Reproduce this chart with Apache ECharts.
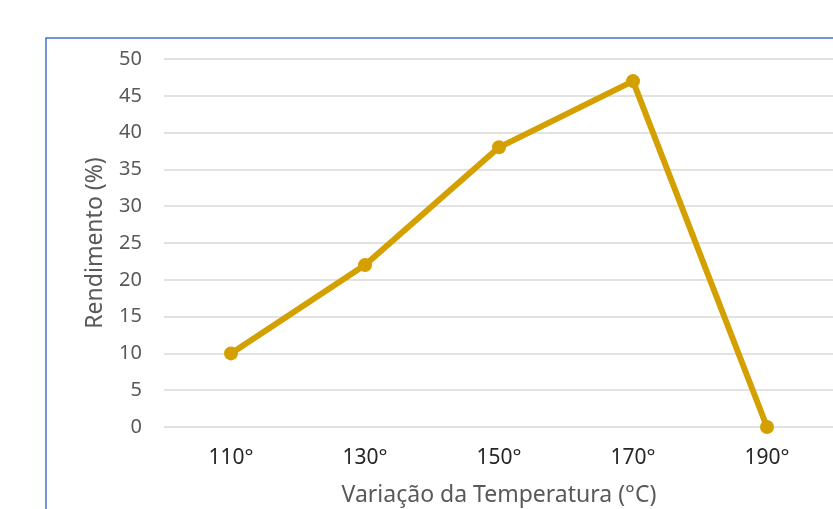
<!DOCTYPE html>
<html><head><meta charset="utf-8">
<script src="https://cdn.jsdelivr.net/npm/echarts@6/dist/echarts.min.js"></script>
<style>html,body{margin:0;padding:0;background:#fff;}#c{width:833px;height:509px;}</style>
</head><body><div id="c"></div>
<script>
const categories = ['110°', '130°', '150°', '170°', '190°'];
const rendimento = [10, 22, 38, 47, 0];
const yTicks = { min: 0, max: 50, interval: 5 };
const xTitle = 'Variação da Temperatura (°C)';
const yTitle = 'Rendimento (%)';

const chart = echarts.init(document.getElementById('c'));
const font = '"Noto Sans", "Open Sans", sans-serif';
chart.setOption({
  animation: false,
  textStyle: { fontFamily: font },
  graphic: [{
    type: 'rect', shape: { x: 46, y: 38, width: 900, height: 600 },
    style: { fill: 'none', stroke: '#4472C4', lineWidth: 1.5 }, z: -1
  }],
  grid: { left: 164, right: -1, top: 59, bottom: 82, containLabel: false, outerBoundsMode: 'none' },
  xAxis: {
    type: 'category', data: categories, boundaryGap: true,
    axisLine: { show: false }, axisTick: { show: false },
    axisLabel: { color: '#262626', fontSize: 21, margin: 21, fontFamily: font },
    name: xTitle, nameLocation: 'middle', nameGap: 57,
    nameTextStyle: { color: '#595959', fontSize: 23, fontFamily: font }
  },
  yAxis: {
    type: 'value', min: yTicks.min, max: yTicks.max, interval: yTicks.interval,
    axisLine: { show: false }, axisTick: { show: false },
    axisLabel: { color: '#595959', fontSize: 20, margin: 22, fontFamily: font },
    splitLine: { lineStyle: { color: '#D9D9D9', width: 1.5 } },
    name: yTitle, nameLocation: 'middle', nameGap: 57, nameRotate: 90,
    nameTextStyle: { color: '#595959', fontSize: 23, fontFamily: font }
  },
  series: [{
    type: 'line', data: rendimento, color: '#D4A000',
    lineStyle: { width: 6, color: '#D4A000' },
    symbol: 'circle', symbolSize: 14,
    itemStyle: { color: '#D4A000' }
  }]
});
</script></body></html>
